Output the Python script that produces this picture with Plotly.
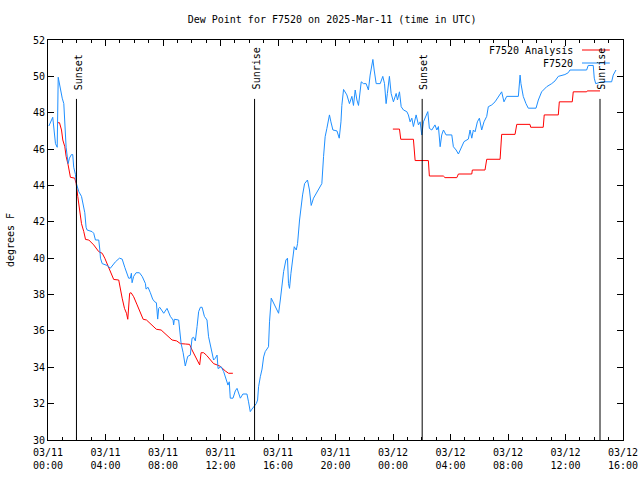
import pandas as pd
import plotly.graph_objects as go

# ---------------- data ----------------
title_text = "Dew Point for F7520 on 2025-Mar-11 (time in UTC)"
y_title = "degrees F"
start_time = "2025-03-11 00:00"

# observed dew point (F7520), hours since 2025-03-11 00:00 UTC
obs_hours = [
    0.06, 0.33, 0.52, 0.64, 0.71, 0.80, 0.99, 1.10, 1.17, 1.26, 1.40, 1.49, 1.63, 1.72, 1.79,
    1.91, 1.98, 2.14, 2.33, 2.42, 2.56, 2.65, 2.72, 3.07, 3.18, 3.30, 3.53, 3.60, 3.65, 3.77,
    4.11, 4.34, 4.69, 4.97, 5.16, 5.34, 5.50, 5.61, 5.73, 5.80, 5.85, 5.96, 6.13, 6.36, 6.55,
    6.78, 6.82, 6.96, 7.12, 7.28, 7.42, 7.54, 7.63, 7.70, 7.77, 8.05, 8.28, 8.51, 8.70, 8.74,
    8.79, 9.09, 9.26, 9.40, 9.55, 9.62, 9.72, 9.90, 10.02, 10.13, 10.25, 10.37, 10.48, 10.60,
    10.72, 10.88, 11.06, 11.17, 11.34, 11.52, 11.64, 11.76, 11.83, 12.04, 12.22, 12.40, 12.52,
    12.61, 12.68, 12.87, 13.03, 13.15, 13.26, 13.38, 13.56, 13.84, 13.95, 14.07, 14.19, 14.30,
    14.49, 14.58, 14.65, 14.77, 14.89, 15.00, 15.11, 15.34, 15.41, 15.53, 15.69, 15.88, 16.04,
    16.16, 16.28, 16.39, 16.55, 16.66, 16.73, 16.80, 16.90, 17.04, 17.13, 17.27, 17.36, 17.50,
    17.60, 17.71, 17.85, 18.05, 18.19, 18.31, 18.47, 18.71, 18.94, 19.05, 19.17, 19.28, 19.40,
    19.58, 19.68, 19.82, 20.10, 20.26, 20.38, 20.44, 20.56, 20.79, 20.97, 21.14, 21.25, 21.37,
    21.49, 21.60, 21.79, 21.95, 22.13, 22.29, 22.41, 22.53, 22.60, 22.69, 22.83, 23.11, 23.29,
    23.41, 23.52, 23.61, 23.75, 23.87, 24.03, 24.22, 24.31, 24.45, 24.57, 24.73, 24.96, 25.07,
    25.19, 25.31, 25.42, 25.61, 25.77, 25.89, 26.00, 26.12, 26.30, 26.42, 26.53, 26.70, 26.92,
    27.05, 27.16, 27.28, 27.39, 27.51, 27.69, 28.09, 28.20, 28.39, 28.55, 28.71, 28.94, 29.24,
    29.36, 29.48, 29.59, 29.71, 29.87, 30.01, 30.17, 30.33, 30.52, 30.63, 30.87, 31.10, 31.33,
    31.56, 31.72, 31.91, 32.72, 32.84, 32.90, 33.06, 33.25, 33.41, 33.95, 34.11, 34.34, 34.69,
    35.04, 35.27, 35.50, 35.96, 36.19, 36.31, 37.47, 37.58, 37.93, 38.00, 38.10, 38.51, 39.21,
    39.32, 39.51,
]
obs_values = [
    47.27, 47.75, 46.30, 46.10, 49.95, 49.50, 48.80, 48.50, 47.40, 46.10, 45.20, 45.50, 45.70, 45.70, 45.00,
    44.60, 44.10, 43.66, 43.40, 43.00, 42.50, 41.70, 41.55, 41.46, 41.37, 41.00, 41.00, 40.50, 40.00, 39.70,
    39.60, 39.45, 39.80, 40.00, 39.95, 39.50, 39.20, 38.90, 38.90, 39.17, 38.65, 39.00, 39.20, 39.20, 39.00,
    38.60, 38.30, 38.40, 38.10, 37.75, 37.60, 37.55, 36.65, 37.24, 37.30, 36.97, 37.24, 36.80, 36.60, 36.33,
    36.64, 36.60, 35.30, 34.80, 34.07, 34.30, 34.60, 34.67, 35.60, 35.65, 35.45, 36.24, 37.06, 37.30,
    37.30, 36.80, 36.60, 35.68, 34.95, 34.40, 34.50, 34.67, 33.93, 34.03, 33.76, 33.30, 33.02,
    33.20, 32.30, 32.30, 32.70, 32.84, 32.57, 32.30, 32.53, 32.53, 32.10, 31.56, 31.70, 31.83,
    32.00, 32.20, 32.93, 33.48, 33.90, 34.57, 34.86, 35.13, 36.50, 37.80, 37.52, 37.24, 36.97,
    37.70, 38.60, 39.26, 39.90, 40.00, 38.60, 38.34, 39.17, 40.27, 40.63, 40.45, 40.80, 42.10,
    42.83, 43.48, 44.10, 44.30, 43.75, 42.90, 43.30, 43.66, 43.94, 44.10, 45.60, 46.68, 47.14,
    47.88, 47.50, 47.05, 47.00, 46.60, 47.50, 48.40, 49.28, 48.98, 48.50, 48.90, 48.40, 49.25,
    48.70, 48.40, 49.70, 49.60, 49.60, 49.25, 50.07, 50.50, 50.93, 50.35, 49.60, 49.60, 50.00,
    49.60, 48.50, 49.06, 50.00, 49.06, 48.60, 49.06, 48.70, 49.15, 48.33, 48.15, 48.06, 47.88,
    47.50, 47.70, 47.24, 47.88, 47.33, 47.50, 46.78, 47.50, 47.88, 48.06, 47.14, 47.05, 47.33,
    47.05, 47.24, 46.13, 46.78, 47.05, 46.78, 46.78, 46.13, 45.95, 45.73, 46.04, 46.41, 46.55,
    47.05, 46.60, 47.05, 46.95, 47.50, 47.70, 47.05, 47.50, 47.80, 48.33, 48.43, 48.60, 48.90,
    49.15, 48.60, 48.90, 48.90, 50.07, 49.60, 48.90, 48.50, 48.25, 48.25, 48.70, 49.15, 49.43,
    49.60, 49.75, 50.00, 50.10, 50.20, 50.35, 50.35, 50.60, 50.60, 49.90, 49.60, 49.70, 49.70,
    50.07, 50.35,
]

# analysis dew point (F7520 Analysis), two segments
ana_hours_1 = [
    0.64, 0.80, 0.94, 1.03, 1.17, 1.26, 1.40, 1.49, 1.56, 1.86, 1.96, 2.07, 2.19, 2.33, 2.49,
    2.61, 2.84, 3.18, 3.53, 3.77, 3.95, 4.18, 4.46, 4.57, 4.92, 4.99, 5.16, 5.32, 5.46, 5.55,
    5.61, 5.68, 5.78, 5.96, 6.20, 6.43, 6.62, 6.85, 7.12, 7.54, 7.87, 8.17, 8.63, 8.95, 9.21,
    9.56, 9.85, 10.02, 10.25, 10.48, 10.55, 10.65, 10.83, 11.04, 11.29, 11.52, 11.76, 11.99,
    12.33, 12.56, 12.86,
]
ana_values_1 = [
    47.45, 47.45, 47.05, 46.50, 46.13, 45.60, 45.13, 44.67, 44.45, 44.40, 44.10, 43.40, 42.65, 41.90, 41.46,
    41.03, 41.00, 40.73, 40.36, 40.27, 40.00, 39.53, 39.07, 38.83, 38.80, 38.43, 37.80, 37.24, 36.97, 36.64,
    37.24, 38.07, 38.10, 37.88, 37.43, 36.97, 36.64, 36.60, 36.42, 36.09, 36.05, 35.85, 35.50, 35.45, 35.30,
    35.28, 35.26, 34.95, 34.58, 34.25, 34.13, 34.80, 34.80, 34.65, 34.38, 34.20, 34.13, 34.05,
    33.80, 33.67, 33.67,
]
ana_hours_2 = [
    23.99, 24.45, 24.54, 25.42, 25.54, 26.46, 26.53, 27.50, 27.62, 28.44, 28.55, 29.48, 29.52,
    30.40, 30.52, 31.45, 31.56, 32.49, 32.61, 33.53, 33.58, 34.45, 34.52, 35.50, 35.57, 36.47,
    36.54, 37.47, 37.51, 38.40,
]
ana_values_2 = [
    47.10, 47.10, 46.54, 46.54, 45.37, 45.37, 44.52, 44.52, 44.43, 44.43, 44.63, 44.63, 44.85,
    44.85, 45.44, 45.44, 46.81, 46.81, 47.36, 47.36, 47.20, 47.20, 47.88, 47.88, 48.60, 48.60,
    49.15, 49.15, 49.20, 49.20,
]

# sunrise / sunset events (hours since start)
event_hours = [1.98, 14.37, 26.03, 38.40]
event_labels = ["Sunset", "Sunrise", "Sunset", "Sunrise"]
event_line_top = 48.76
event_label_base = 49.15

# axes
x_span_hours = 40
x_tick_hours = [0, 4, 8, 12, 16, 20, 24, 28, 32, 36, 40]
x_tick_labels = ["03/11<br>00:00", "03/11<br>04:00", "03/11<br>08:00", "03/11<br>12:00",
                 "03/11<br>16:00", "03/11<br>20:00", "03/12<br>00:00", "03/12<br>04:00",
                 "03/12<br>08:00", "03/12<br>12:00", "03/12<br>16:00"]
y_range = [30, 52]
y_tick_step = 2

# ---------------- figure ----------------
base = pd.Timestamp(start_time)


def to_time(hours):
    return [base + pd.Timedelta(hours=h) for h in hours]


FONT = "DejaVu Sans Mono"
BLUE = "#1e8fff"
RED = "#ff0000"

fig = go.Figure()

fig.add_trace(go.Scatter(
    x=to_time(ana_hours_1) + [None] + to_time(ana_hours_2),
    y=ana_values_1 + [None] + ana_values_2,
    mode="lines", name="F7520 Analysis",
    line=dict(color=RED, width=1), connectgaps=False,
))
fig.add_trace(go.Scatter(
    x=to_time(obs_hours), y=obs_values,
    mode="lines", name="F7520",
    line=dict(color=BLUE, width=1),
))

for h, lab in zip(event_hours, event_labels):
    t = base + pd.Timedelta(hours=h)
    fig.add_shape(type="line", xref="x", yref="y", x0=t, x1=t, y0=y_range[0], y1=event_line_top,
                  line=dict(color="black", width=1))
    fig.add_annotation(x=t, y=event_label_base, xref="x", yref="y", text=lab, textangle=-90,
                       showarrow=False, xanchor="center", yanchor="bottom", xshift=2,
                       font=dict(family=FONT, size=10, color="black"))

# custom legend (text right-aligned, sample line on the right)
legend_items = [("F7520 Analysis", RED), ("F7520", BLUE)]
for i, (name, col) in enumerate(legend_items):
    ypix = 0.975 - i * 0.0325
    fig.add_annotation(x=0.9165, y=ypix, xref="paper", yref="paper", text=name, showarrow=False,
                       xanchor="right", yanchor="middle", font=dict(family=FONT, size=10, color="black"))
    fig.add_shape(type="line", xref="paper", yref="paper", x0=0.9287, x1=0.977, y0=ypix, y1=ypix,
                  line=dict(color=col, width=1))

# y-axis title as a rotated annotation at the left edge
fig.add_annotation(x=-0.066, y=0.5, xref="paper", yref="paper", text=y_title, textangle=-90,
                   showarrow=False, xanchor="center", yanchor="middle",
                   font=dict(family=FONT, size=10, color="black"))

fig.update_layout(
    width=640, height=480,
    margin=dict(l=48, r=17, t=40, b=40, autoexpand=False),
    paper_bgcolor="white", plot_bgcolor="white",
    showlegend=False,
    font=dict(family=FONT, size=10, color="black"),
    title=dict(text=title_text, x=0.519, xanchor="center", y=1 - 19 / 480, yanchor="middle",
               font=dict(family=FONT, size=10, color="black")),
)
fig.update_xaxes(
    type="date", automargin=False,
    range=[base, base + pd.Timedelta(hours=x_span_hours)],
    tickvals=to_time(x_tick_hours), ticktext=x_tick_labels,
    ticks="inside", ticklen=6, tickwidth=1, tickcolor="black",
    ticklabelstandoff=3,
    minor=dict(ticks="inside", ticklen=3, dtick=3600000, tick0=base, tickcolor="black", showgrid=False),
    showline=True, linecolor="black", linewidth=1, mirror="ticks",
    showgrid=False, zeroline=False,
    tickfont=dict(family=FONT, size=10, color="black"),
)
fig.update_yaxes(
    automargin=False,
    range=y_range, dtick=y_tick_step, tick0=y_range[0],
    ticks="inside", ticklen=6, tickwidth=1, tickcolor="black",
    showline=True, linecolor="black", linewidth=1, mirror="ticks",
    showgrid=False, zeroline=False,
    tickfont=dict(family=FONT, size=10, color="black"),
)

fig.write_html(
    "out.html",
    config={"displayModeBar": False},
    post_script="document.body.style.margin='0';document.body.style.overflow='hidden';",
)
